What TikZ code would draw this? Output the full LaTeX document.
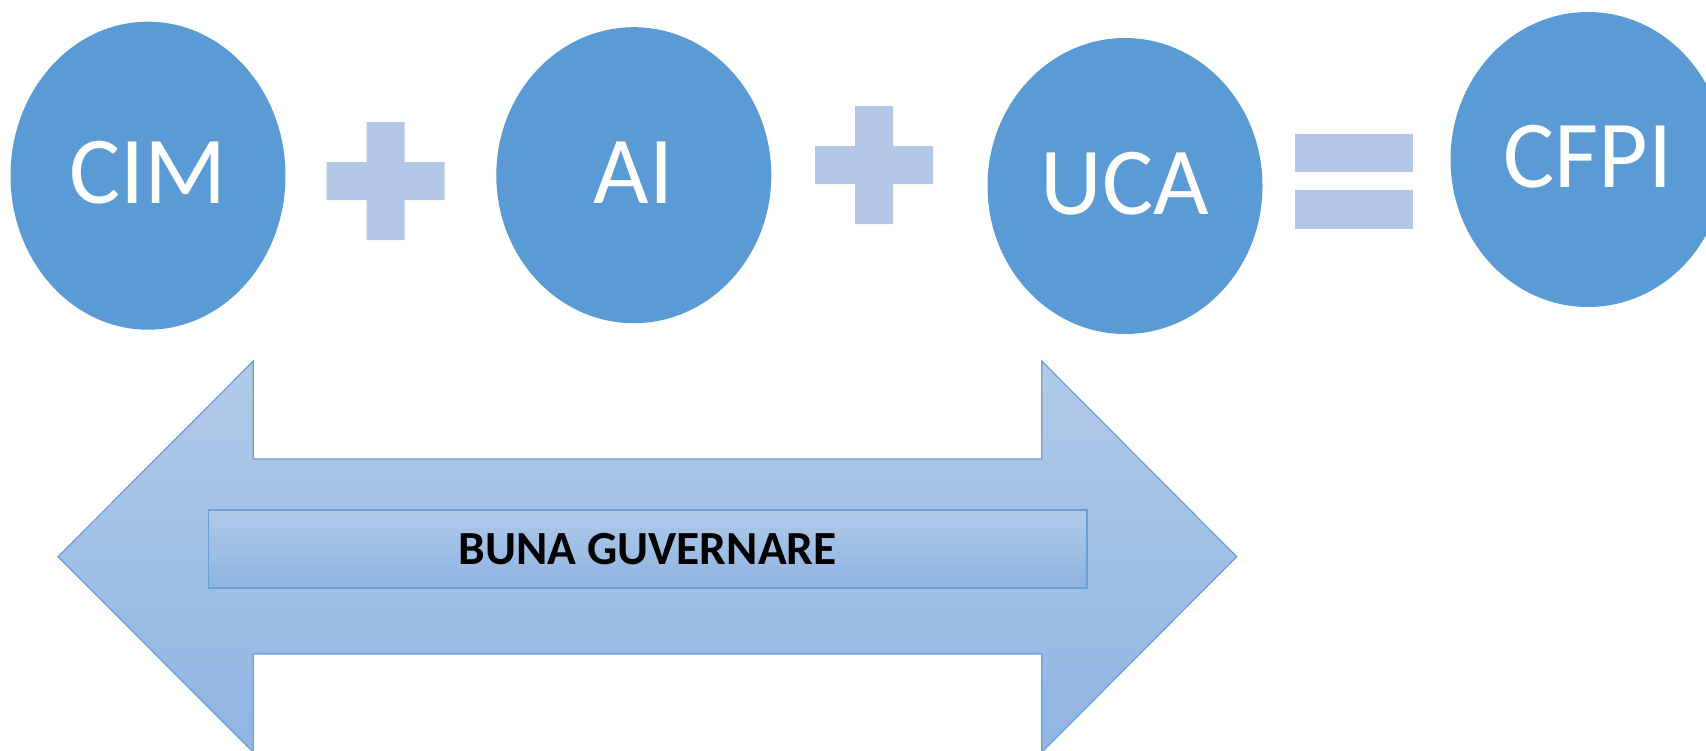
\documentclass[tikz,border=0pt]{standalone}
\usepackage{fontspec}
\setmainfont{Carlito}
\usetikzlibrary{shapes.geometric}
\definecolor{circ}{HTML}{5B9BD5}
\definecolor{opc}{HTML}{B4C7E7}
\definecolor{arrtop}{HTML}{B1CAE8}
\definecolor{arrbot}{HTML}{90B5E2}
\definecolor{boxtop}{HTML}{B0CAE9}
\definecolor{boxbot}{HTML}{8DB3E1}
\definecolor{arredge}{HTML}{6A9FD8}
\begin{document}
\begin{tikzpicture}[x=1pt,y=-1pt,
  bubble/.style={ellipse, fill=circ, draw=none, minimum width=275pt,
    minimum height=296pt, inner sep=0pt, text=white, text depth=6pt,
    font=\fontsize{96}{96}\selectfont},
  opsign/.style={fill=opc, draw=none},
  arrowshape/.style={draw=arredge, line width=1.2pt, top color=arrtop, bottom color=arrbot},
  labelbox/.style={draw=arredge, line width=1.2pt, top color=boxtop, bottom color=boxbot,
    rectangle, inner sep=0pt, minimum width=878.5pt, minimum height=78pt,
    font=\fontsize{47.5}{47.5}\selectfont\bfseries}]
\useasboundingbox (0,0) rectangle (1706,750);

% double arrow
\draw[arrowshape] (58,556.7) -- (253.3,361) -- (253.3,459) -- (1041.7,459)
  -- (1041.7,361) -- (1236.7,556.7) -- (1041.7,752.4) -- (1041.7,654)
  -- (253.3,654) -- (253.3,752.4) -- cycle;
\node[labelbox] (bg) at (647.8,549) {BUNA GUVERNARE};

% bubbles
\node[bubble, minimum height=308pt] (cim) at (148,175.7) {CIM};
\node[bubble] (ai) at (633.8,175.2) {AI};
\node[bubble] (uca) at (1125,186) {UCA};
\node[bubble, minimum height=295pt] (cfpi) at (1588,159.5) {CFPI};

% plus signs
\foreach \cx/\cy in {385.7/181, 874/165}{
  \fill[opsign] (\cx-59,\cy-19) -- (\cx-19,\cy-19) -- (\cx-19,\cy-59) -- (\cx+19,\cy-59)
    -- (\cx+19,\cy-19) -- (\cx+59,\cy-19) -- (\cx+59,\cy+19) -- (\cx+19,\cy+19)
    -- (\cx+19,\cy+59) -- (\cx-19,\cy+59) -- (\cx-19,\cy+19) -- (\cx-59,\cy+19) -- cycle;
}
% equals sign
\fill[opsign] (1294.7,133.8) rectangle (1413,171.9);
\fill[opsign] (1294.7,190.4) rectangle (1413,228.5);
\end{tikzpicture}
\end{document}
